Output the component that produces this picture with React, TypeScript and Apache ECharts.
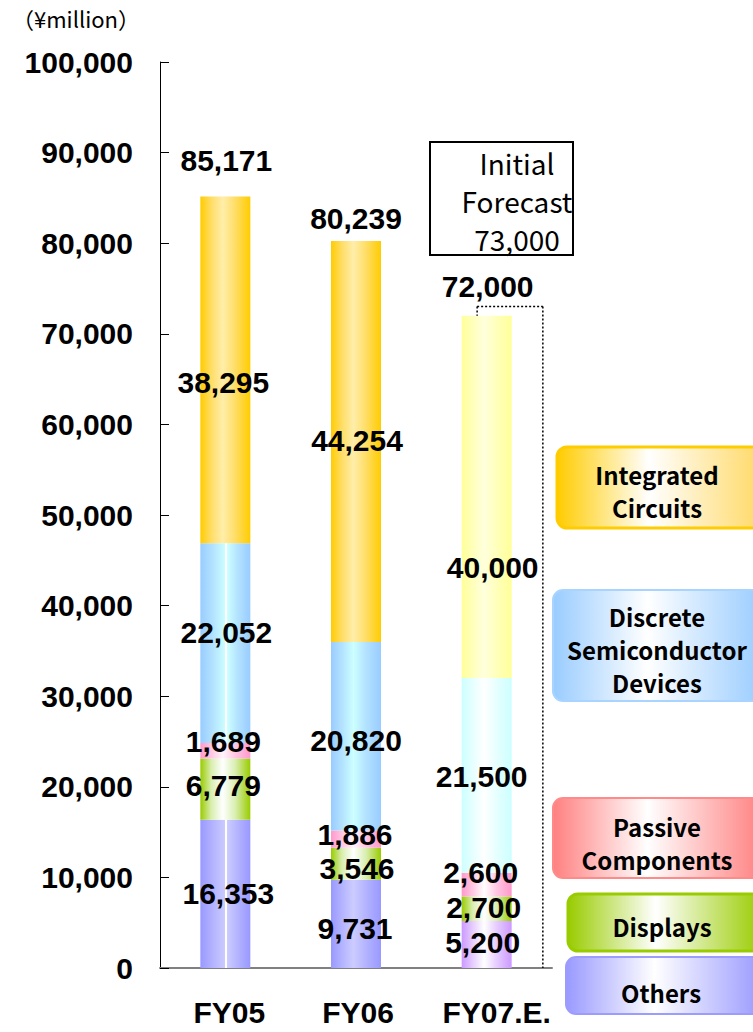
import React, { useEffect, useRef } from "react";
import * as echarts from "echarts";

// ---- data ----
const categories = ["FY05", "FY06", "FY07.E."];
const seriesNames = [
  "Others",
  "Displays",
  "Passive Components",
  "Discrete Semiconductor Devices",
  "Integrated Circuits",
];
const others = [16353, 9731, 5200];
const displays = [6779, 3546, 2700];
const passive = [1689, 1886, 2600];
const discrete = [22052, 20820, 21500];
const integrated = [38295, 44254, 40000];
const totals = [85171, 80239, 72000];
const initialForecast = 73000;
const yMin = 0;
const yMax = 100000;
const yInterval = 10000;
const unitLabel = "（¥million）";
const legendLabels = [
  "Integrated\nCircuits",
  "Discrete\nSemiconductor\nDevices",
  "Passive\nComponents",
  "Displays",
  "Others",
];

// ---- styles ----
const numFont = "'Liberation Sans', Arial, sans-serif";
const jpFont = "'Noto Sans CJK JP', 'Noto Sans', sans-serif";
const fmt = (v: number) => v.toLocaleString("en-US");

const actualColors = [
  ["#9999ff", "#b3b3ff", "#ccccff"],
  ["#99cc00", "#d9eeb0", "#ffffff"],
  ["#ff99cc", "#ffc6e2", "#fff4fa"],
  ["#99ccff", "#b3e2ff", "#ccffff"],
  ["#ffcc00", "#ffdd66", "#ffeeaa"],
];
const forecastColors = [
  ["#cc99ff", "#e6ccff", "#ffffff"],
  ["#99cc00", "#d9eeb0", "#ffffff"],
  ["#ff99cc", "#ffc6e2", "#ffffff"],
  ["#ccffff", "#e6ffff", "#ffffff"],
  ["#ffff99", "#ffffbb", "#ffffdd"],
];
// white centre line seen on FY05 Others / Discrete
const centreLine: Record<string, boolean> = { "0-0": true, "3-0": true };

// label offsets [dx, dy] per series / category
const labelOffsets = [
  [[3, 0], [-1, 5], [-4, -2]],
  [[-2, -4], [1, 5], [-3, -1]],
  [[-2, -9], [-1, -5], [-6, -12]],
  [[1, -11], [0, 4], [-5, 1]],
  [[-2, 13], [1, -1], [6, 71]],
];
const totalOffsets = [[1, -36], [0, -23], [1, -29]];
// left padding of category labels (shifts label right by half)
const catLabelPad = [8, 4, 20];

function grad(c: string[], line: boolean) {
  const [edge, mid, centre] = c;
  const stops = line
    ? [
        { offset: 0, color: edge },
        { offset: 0.25, color: mid },
        { offset: 0.5, color: centre },
        { offset: 0.5, color: "#ffffff" },
        { offset: 0.54, color: "#ffffff" },
        { offset: 0.54, color: centre },
        { offset: 0.75, color: mid },
        { offset: 1, color: edge },
      ]
    : [
        { offset: 0, color: edge },
        { offset: 0.22, color: mid },
        { offset: 0.45, color: centre },
        { offset: 0.7, color: mid },
        { offset: 1, color: edge },
      ];
  return new echarts.graphic.LinearGradient(0, 0, 1, 0, stops);
}

function legendGrad(edge: string, right: string) {
  return new echarts.graphic.LinearGradient(0, 0, 1, 0, [
    { offset: 0, color: edge },
    { offset: 0.45, color: "#ffffff" },
    { offset: 1, color: right },
  ]);
}

export default function App() {
  const ref = useRef<HTMLDivElement>(null);

  useEffect(() => {
    if (!ref.current) return;
    const chart = echarts.init(ref.current, null, { renderer: "svg" });
    const values = [others, displays, passive, discrete, integrated];

    const labelStyle = {
      fontSize: 30,
      fontWeight: "bold",
      fontFamily: numFont,
      color: "#000",
      textBorderWidth: 0,
    };

    const barSeries = values.map((arr, si) => ({
      name: seriesNames[si],
      type: "bar",
      stack: "total",
      barWidth: 50,
      data: arr.map((v, ci) => ({
        value: v,
        itemStyle: {
          color: grad(ci === 2 ? forecastColors[si] : actualColors[si], !!centreLine[`${si}-${ci}`]),
        },
        label: { offset: labelOffsets[si][ci] },
      })),
      label: {
        show: true,
        position: "inside",
        formatter: (p: any) => fmt(p.value),
        ...labelStyle,
      },
    }));

    chart.setOption({
      animation: false,
      grid: { left: 160, right: 201, top: 62, bottom: 64, containLabel: false },
      xAxis: {
        type: "category",
        data: categories.map((c, i) => ({ value: c, textStyle: { padding: [0, 0, 0, catLabelPad[i]] } })),
        axisLine: { lineStyle: { color: "#808080", width: 2 } },
        axisTick: { inside: true, length: 8, lineStyle: { color: "#404040" } },
        axisLabel: {
          interval: 0,
          margin: 29,
          fontSize: 30,
          fontWeight: "bold",
          fontFamily: numFont,
          color: "#000",
        },
      },
      yAxis: {
        type: "value",
        min: yMin,
        max: yMax,
        interval: yInterval,
        axisLine: { show: true, lineStyle: { color: "#000", width: 1 } },
        axisTick: { show: true, inside: true, length: 9, lineStyle: { color: "#000" } },
        splitLine: { show: false },
        axisLabel: {
          margin: 27,
          formatter: (v: number) => fmt(v),
          fontSize: 30,
          fontWeight: "bold",
          fontFamily: numFont,
          color: "#000",
        },
      },
      series: [
        ...barSeries,
        {
          name: "Total",
          type: "scatter",
          symbolSize: 1,
          itemStyle: { color: "rgba(255,255,255,0)", opacity: 1 },
          z: 10,
          data: totals.map((v, ci) => ({ value: v, label: { offset: totalOffsets[ci] } })),
          label: {
            show: true,
            position: "inside",
            formatter: (p: any) => fmt(p.value),
            ...labelStyle,
          },
        },
      ],
    });

    // positions from the chart's own scales
    const py = (v: number) => chart.convertToPixel({ yAxisIndex: 0 }, v) as number;
    const px = (i: number) => chart.convertToPixel({ xAxisIndex: 0 }, categories[i]) as number;
    const band = px(1) - px(0);
    const fc = 2;
    const yF = py(initialForecast);
    const yT = py(totals[fc]);
    const y0 = py(0);
    const xL = px(fc) - band * 0.073;
    const xR = px(fc) + band * 0.43;
    const dotted = { stroke: "#000", lineWidth: 1.5, lineDash: [2, 2] };

    const legendBoxes = [
      { x: 557, y: 447, w: 205, h: 81, edge: "#ffcc00", right: "#ffd966", stroke: "#ffcc00", lw: 3, cx: 657, cy: 491 },
      { x: 553, y: 590, w: 210, h: 111, edge: "#99ccff", right: "#99ccff", stroke: "#a8d4ff", lw: 2, cx: 657, cy: 649 },
      { x: 553, y: 798, w: 210, h: 80, edge: "#ff8080", right: "#ff8080", stroke: "#ff8a8a", lw: 2, cx: 657, cy: 843 },
      { x: 568, y: 894, w: 195, h: 57, edge: "#99cc00", right: "#99cc00", stroke: "#99cc00", lw: 3, cx: 662, cy: 926 },
      { x: 566, y: 957, w: 197, h: 57, edge: "#9999ff", right: "#9999ff", stroke: "#9c9cff", lw: 2, cx: 661, cy: 992 },
    ];

    const elements: any[] = [
      {
        type: "text",
        x: 12,
        y: 18,
        style: { text: unitLabel, font: `22px ${jpFont}`, fill: "#000", verticalAlign: "middle" },
      },
      {
        type: "rect",
        shape: { x: 430, y: 142, width: 143, height: 113 },
        style: { fill: "#fff", stroke: "#000", lineWidth: 2 },
      },
      {
        type: "text",
        x: 517,
        y: 201,
        style: {
          text: `Initial\nForecast\n${fmt(initialForecast)}`,
          font: `28px ${jpFont}`,
          lineHeight: 38,
          fill: "#000",
          align: "center",
          verticalAlign: "middle",
        },
      },
      { type: "line", shape: { x1: xL, y1: yF, x2: xR, y2: yF }, style: dotted, z: 20 },
      { type: "line", shape: { x1: xL, y1: yF, x2: xL, y2: yT }, style: dotted, z: 20 },
      { type: "line", shape: { x1: xR, y1: yF, x2: xR, y2: y0 }, style: dotted, z: 20 },
    ];

    legendBoxes.forEach((b, i) => {
      elements.push({
        type: "rect",
        shape: { x: b.x, y: b.y, width: b.w, height: b.h, r: 10 },
        style: { fill: legendGrad(b.edge, b.right), stroke: b.stroke, lineWidth: b.lw },
      });
      elements.push({
        type: "text",
        x: b.cx,
        y: b.cy,
        style: {
          text: legendLabels[i],
          font: `bold 24px ${jpFont}`,
          lineHeight: 33,
          fill: "#000",
          align: "center",
          verticalAlign: "middle",
        },
      });
    });

    chart.setOption({ graphic: { elements } });

    return () => chart.dispose();
  }, []);

  return (
    <div
      ref={ref}
      style={{ position: "absolute", left: 0, top: 0, width: 753, height: 1032, background: "#fff" }}
    />
  );
}
